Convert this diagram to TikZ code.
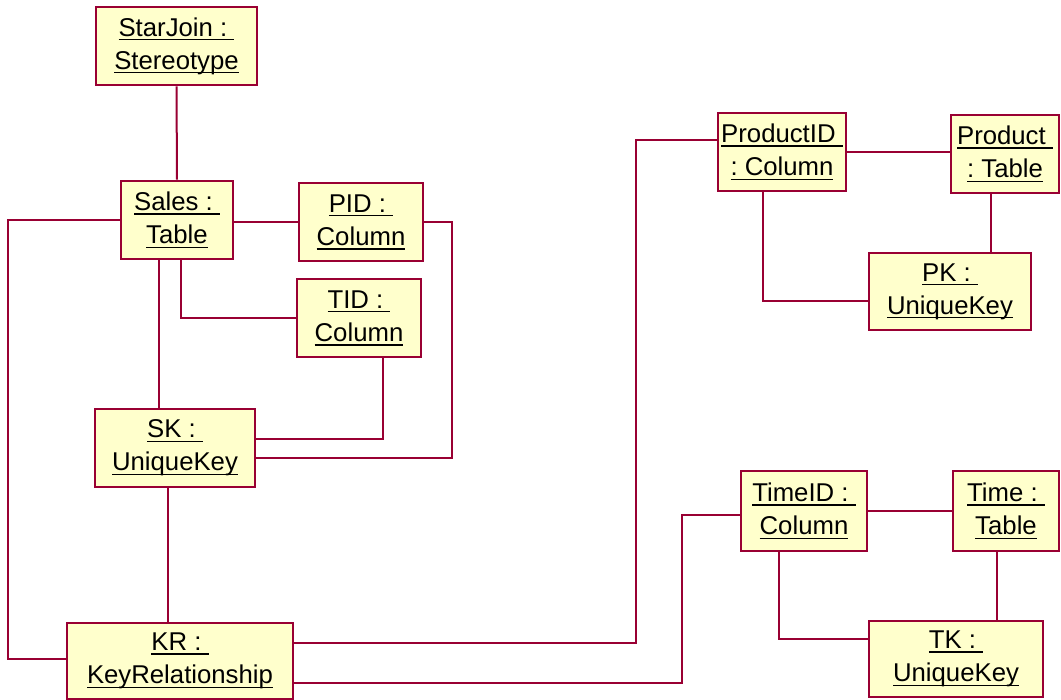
\documentclass[tikz,border=0pt]{standalone}
\usepackage{fontspec}
\setmainfont{Liberation Sans}
\usetikzlibrary{calc}
\frenchspacing
\definecolor{boxfill}{HTML}{FFFFCC}
\definecolor{boxline}{HTML}{990033}
\newcommand\myul[1]{\setbox0\hbox{#1}\rlap{\rule[-3.2pt]{\wd0}{1.1pt}}\box0}
\tikzset{
  objbox/.style={draw=boxline, fill=boxfill, line width=1.9pt, inner sep=0pt,
    align=center, font=\fontsize{19.3}{24.8}\selectfont\frenchspacing},
  conn/.style={draw=boxline, line width=1.5pt},
}
\begin{document}
\begin{tikzpicture}[x=0.75pt, y=-0.75pt]
\useasboundingbox[fill=white] (0,0) rectangle (1061,700);
% nodes
\node[objbox, minimum width=120.75pt, minimum height=58.5pt] (starjoin) at (176.5,46) {\myul{StarJoin : }\\\myul{Stereotype}};
\node[objbox, minimum width=84pt, minimum height=58.5pt] (sales) at (177,220) {\myul{Sales : }\\\myul{Table}};
\node[objbox, minimum width=93pt, minimum height=58.5pt] (pid) at (361,222) {\myul{PID : }\\\myul{Column}};
\node[objbox, minimum width=93pt, minimum height=58.5pt] (tid) at (359,318) {\myul{TID : }\\\myul{Column}};
\node[objbox, minimum width=120pt, minimum height=58.5pt] (sk) at (175,448) {\myul{SK : }\\\myul{UniqueKey}};
\node[objbox, minimum width=169.5pt, minimum height=57pt] (kr) at (180,661) {\myul{KR : }\\\myul{KeyRelationship}};
\node[objbox, minimum width=96pt, minimum height=58.5pt] (productid) at (782,152) {\myul{ProductID }\\\myul{: Column}};
\node[objbox, minimum width=81pt, minimum height=58.5pt] (product) at (1005,154) {\myul{Product }\\\myul{: Table}};
\node[objbox, minimum width=121.5pt, minimum height=57.75pt] (pk) at (950,291.5) {\myul{PK : }\\\myul{UniqueKey}};
\node[objbox, minimum width=94.5pt, minimum height=60pt] (timeid) at (804,511) {\myul{TimeID : }\\\myul{Column}};
\node[objbox, minimum width=79.5pt, minimum height=60pt] (time) at (1006,511) {\myul{Time : }\\\myul{Table}};
\node[objbox, minimum width=130.5pt, minimum height=57pt] (tk) at (956,659) {\myul{TK : }\\\myul{UniqueKey}};
% connectors
\draw[conn] (starjoin.south) -- (sales.north);
\draw[conn] (pid.west -| sales.east) -- (pid.west);
\draw[conn] ($(sales.south)+(4,0)$) |- (tid.west);
\draw[conn] ($(sales.south)+(-18,0)$) coordinate (a) -- (a |- sk.north);
\draw[conn] ($(tid.south)+(24,0)$) |- ($(sk.east)+(0,-9)$);
\draw[conn] (pid.east) -- ++(28,0) |- ($(sk.east)+(0,10)$);
\draw[conn] (sales.west) -- ++(-112,0) |- ($(kr.west)+(0,-2)$);
\draw[conn] ($(sk.south)+(-7,0)$) coordinate (b) -- (b |- kr.north);
\draw[conn] ($(kr.east)+(0,-18)$) -- ++(342,0) |- ($(productid.west)+(0,-12)$);
\draw[conn] ($(kr.east)+(0,22)$) -- ++(388,0) |- ($(timeid.west)+(0,4)$);
\draw[conn] (productid.east) -- (productid.east -| product.west);
\draw[conn] ($(product.south)+(-14,0)$) coordinate (c) -- (c |- pk.north);
\draw[conn] ($(productid.south)+(-19,0)$) |- ($(pk.west)+(0,9.5)$);
\draw[conn] (timeid.east) -- (time.west);
\draw[conn] ($(time.south)+(-9,0)$) coordinate (d) -- (d |- tk.north);
\draw[conn] ($(timeid.south)+(-25,0)$) |- ($(tk.west)+(0,-20)$);
\end{tikzpicture}
\end{document}
